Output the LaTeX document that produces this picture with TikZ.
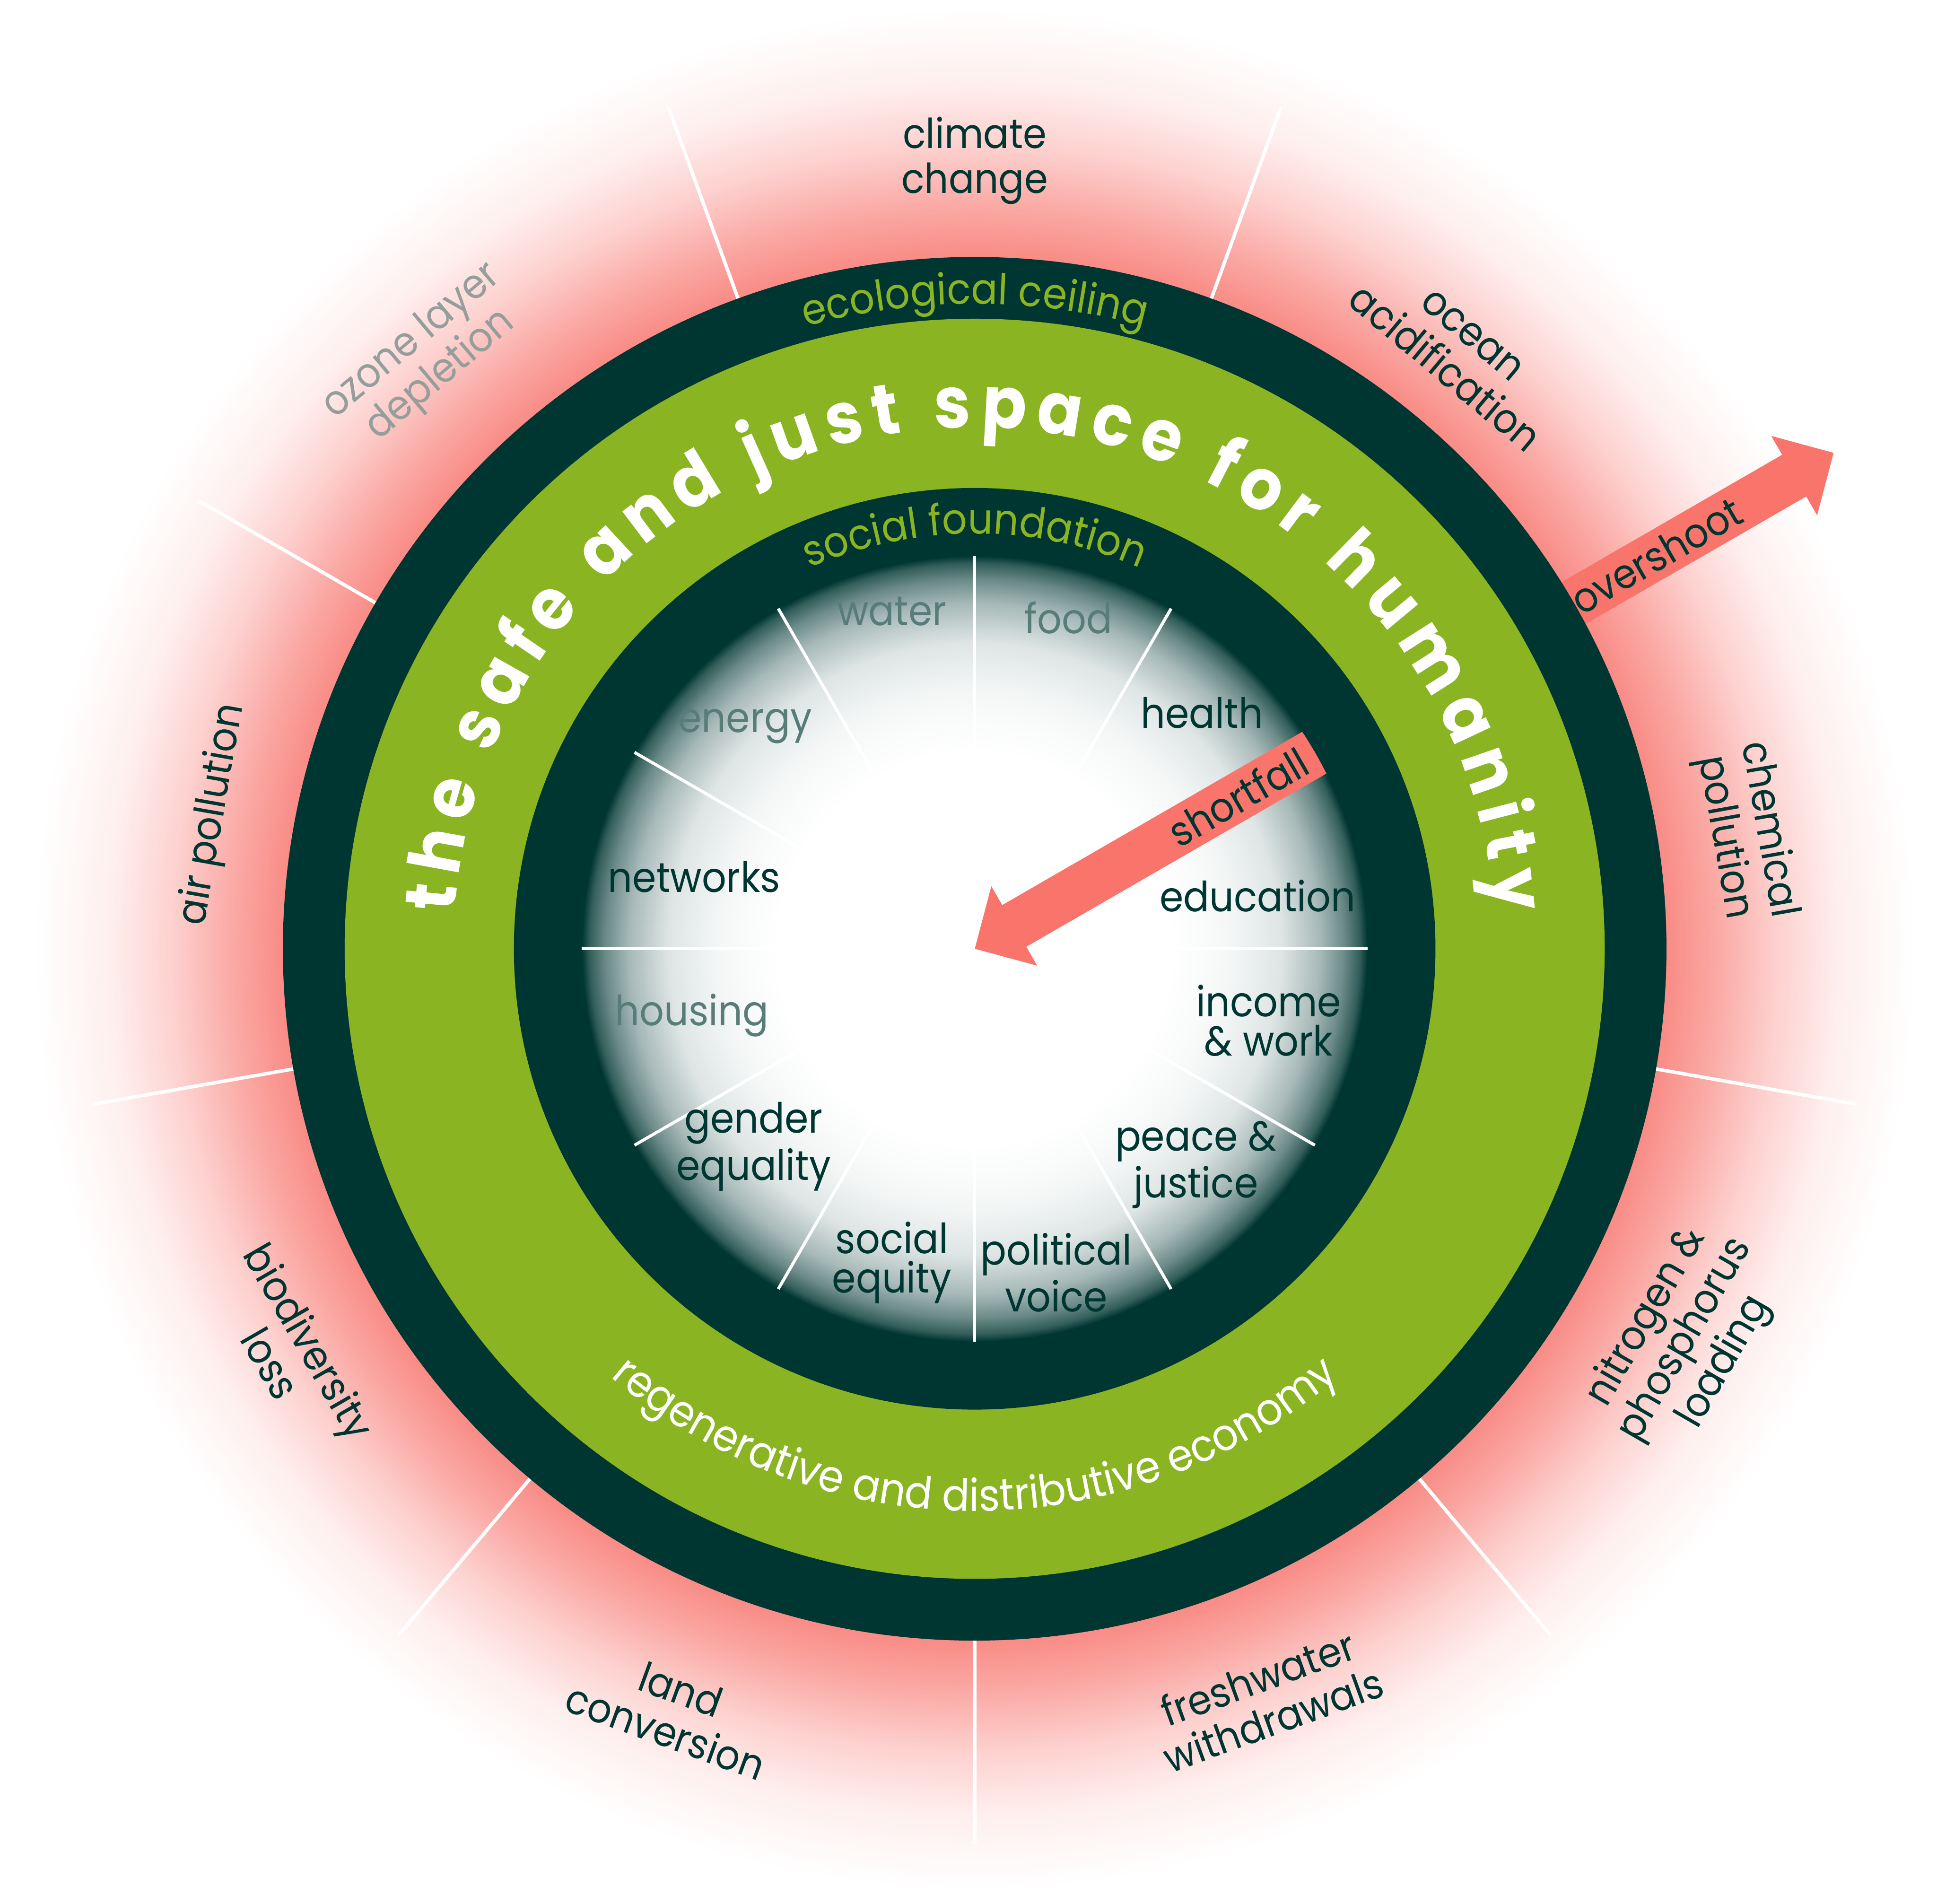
\documentclass[tikz,border=0pt]{standalone}
\usepackage{fontspec}
\setmainfont{Poppins}[FakeStretch=0.92]
\usetikzlibrary{arrows.meta, decorations.text}
\definecolor{donutdark}{RGB}{0, 54, 50}
\definecolor{donutgreen}{RGB}{138, 180, 34}
\definecolor{glowred}{RGB}{249, 140, 134}
\definecolor{arrowred}{RGB}{249, 117, 107}
\definecolor{mutedteal}{RGB}{88, 125, 121}
\definecolor{mutedgrey}{RGB}{150, 158, 156}
\pgfdeclareradialshading{glowshade}{\pgfpoint{0bp}{0bp}}{color(0bp)=(glowred); color(18.2bp)=(glowred); color(19.5bp)=(glowred!75!white); color(21.1bp)=(glowred!40!white); color(22.75bp)=(glowred!14!white); color(24.7bp)=(white); color(50bp)=(white)}
\pgfdeclareradialshading{discshade}{\pgfpoint{0bp}{0bp}}{color(0bp)=(white); color(12.5bp)=(white); color(16.25bp)=(donutdark!4!white); color(19.5bp)=(donutdark!13!white); color(22bp)=(donutdark!35!white); color(23.5bp)=(donutdark!58!white); color(24.5bp)=(donutdark!80!white); color(25bp)=(donutdark); color(50bp)=(donutdark)}
\newcommand{\safespacefont}{\bfseries\fontsize{16.5}{16.5}\selectfont}
\newcommand{\ringfont}{\fontsize{9.8}{9.8}\selectfont}
\newcommand{\economyfont}{\fontsize{10.2}{10.2}\selectfont}

\begin{document}
\begin{tikzpicture}[
    outerlabel/.style={text=donutdark, font=\fontsize{9.5}{10.3}\selectfont, align=center},
    innerlabel/.style={text=donutdark, font=\fontsize{9.6}{9}\selectfont, align=center},
    spoke/.style={white, line width=0.8pt},
    bigarrow/.style={arrowred, line width=0.39cm, -{Triangle[width=0.72cm, length=0.37cm]}},
    arrowlabel/.style={text=donutdark, font=\fontsize{9.5}{9.5}\selectfont, rotate=30}
  ]
  \useasboundingbox (-7.89,-7.73) rectangle (7.79,7.68);
  \coordinate (hub) at (0,0);
  \shade[shading=glowshade] (hub) circle (7.7);
  \foreach \a in {30,70,...,350}
    \draw[spoke] (\a:5.5) -- (\a:7.25);
  \coordinate (overtail) at (30:5.3);
  \coordinate (overtip) at (30:8.03);
  \draw[bigarrow] (overtail) -- (overtip);

  \fill[donutdark] (hub) circle (5.6);
  \fill[donutgreen] (hub) circle (5.1);
  \fill[donutdark] (hub) circle (3.73);
  \shade[shading=discshade] (hub) circle (3.18);
  \foreach \a in {0,30,...,330}
    \draw[spoke, line width=0.7pt] (\a:3.18) -- (\a:1.3);
  \begin{scope}
    \clip (hub) circle (3.18);
    \coordinate (shorttail) at (30:3.4);
    \draw[bigarrow] (shorttail) -- (hub);
  \end{scope}

  \path[decorate, decoration={text along path, text color=white, text align={fit to path}, text={|\safespacefont|the safe and just space for humanity}}] (176:4.22) arc[start angle=176, end angle=4, radius=4.22];
  \path[decorate, decoration={text along path, text color=donutgreen, text align=center, text={|\ringfont|ecological ceiling}}] (125:5.22) arc[start angle=125, end angle=55, radius=5.22];
  \path[decorate, decoration={text along path, text color=donutgreen, text align=center, text={|\ringfont|social foundation}}] (125:3.36) arc[start angle=125, end angle=55, radius=3.36];
  \path[decorate, decoration={text along path, text color=white, text align=center, text={|\economyfont|regenerative and distributive economy}}] (200:4.55) arc[start angle=200, end angle=340, radius=4.55];

  \node[outerlabel] (climate) at (90:6.38) {climate\\change};
  \node[outerlabel, rotate=-40] (ocean) at (51:6.21) {ocean\\acidification};
  \node[outerlabel, rotate=-80] (chemical) at (8.5:6.31) {chemical\\pollution};
  \node[outerlabel, rotate=60] (nitrogen) at (-28.8:6.57) {nitrogen \&\\phosphorus\\loading};
  \node[outerlabel, rotate=20] (freshwater) at (-68.8:6.51) {freshwater\\withdrawals};
  \node[outerlabel, rotate=-20] (land) at (248.4:6.63) {land\\conversion};
  \node[outerlabel, rotate=-60] (biodiversity) at (210.5:6.43) {biodiversity\\loss};
  \node[outerlabel, rotate=80] (air) at (170:6.26) {air pollution};
  \node[outerlabel, rotate=40, text=mutedgrey] (ozone) at (132.9:6.52) {ozone layer\\depletion};

  \node[innerlabel, text=mutedteal] (food) at (0.76,2.68) {food};
  \node[innerlabel, text=mutedteal] (water) at (-0.67,2.73) {water};
  \node[innerlabel, text=mutedteal] (energy) at (-1.86,1.80) {energy};
  \node[innerlabel] (networks) at (-2.27,0.58) {networks};
  \node[innerlabel, text=mutedteal] (housing) at (-2.29,-0.54) {housing};
  \node[innerlabel] (gender) at (-1.79,-1.60) {gender\\equality};
  \node[innerlabel] (equity) at (-0.67,-2.54) {social\\equity};
  \node[innerlabel] (voice) at (0.66,-2.62) {political\\voice};
  \node[innerlabel] (peace) at (1.79,-1.75) {peace \&\\justice};
  \node[innerlabel] (income) at (2.38,-0.58) {income\\\& work};
  \node[innerlabel] (education) at (2.29,0.43) {education};
  \node[innerlabel] (health) at (1.84,1.91) {health};

  \node[arrowlabel] (overshoot) at (30:6.37) {overshoot};
  \node[arrowlabel] (shortfall) at (30:2.46) {shortfall};
\end{tikzpicture}
\end{document}
